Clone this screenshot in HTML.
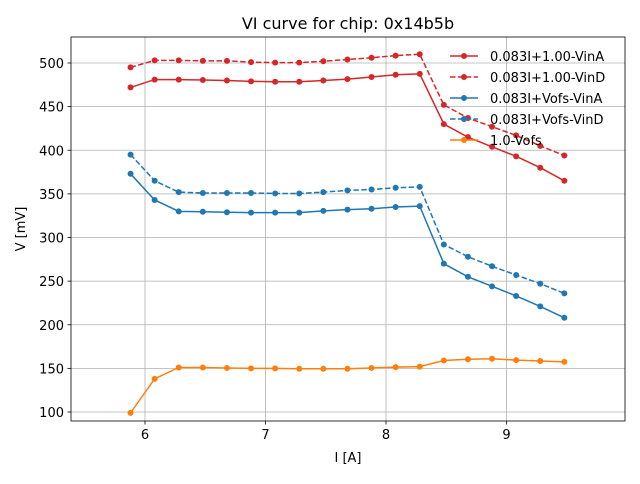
<!DOCTYPE html>
<html><head><meta charset="utf-8"><style>
body{margin:0;background:#fff;font-family:"DejaVu Sans","Liberation Sans",sans-serif;}
svg text{font-family:"DejaVu Sans","Liberation Sans",sans-serif;}
</style></head><body>
<svg id="chart" width="640" height="480" xmlns="http://www.w3.org/2000/svg">
<rect width="640" height="480" fill="#fff"/>
<g id="grid"></g><g id="series"></g><g id="axes"></g><g id="legend"></g>
</svg>
<script>
const xs=[5.88,6.08,6.28,6.48,6.68,6.88,7.08,7.28,7.48,7.68,7.88,8.08,8.28,8.48,8.68,8.88,9.08,9.28,9.48];
const redSolid=[472,481,481,480.5,480,479,478.5,478.5,480,481.5,484,486.5,487.5,430,415,404,393,380,365];
const redDashed=[495,503,503,502.5,502.5,501,500.5,500.5,502,504,506,508.5,510,452,437,427,417,405,394];
const blueSolid=[373,343,330,329.5,329,328.5,328.5,328.5,330.5,332,333,335,336,270,255,244,233,221,208];
const blueDashed=[395,365,352,351,351,351,350.5,350.5,352,354,355,357,358,292,278,267,257,247,236];
const orange=[99,138,151,151,150.5,150,150,149.5,149.5,149.5,150.5,151.5,152,159,160.5,161,159.5,158.5,157.5];
const xTicks=[6,7,8,9];
const yTicks=[100,150,200,250,300,350,400,450,500];
const names=["0.083I+1.00-VinA","0.083I+1.00-VinD","0.083I+Vofs-VinA","0.083I+Vofs-VinD","1.0-Vofs"];
const L=71,R=625,T=37,B=421;
const X=v=>145+(v-6)*120.5;
const Y=v=>412-(v-100)*0.8725;
const NS="http://www.w3.org/2000/svg";
function mk(tag,attrs,parent,txt){const e=document.createElementNS(NS,tag);for(const k in attrs)e.setAttribute(k,attrs[k]);if(txt!==undefined)e.textContent=txt;parent.appendChild(e);return e;}
const grid=document.getElementById('grid'),axes=document.getElementById('axes'),ser=document.getElementById('series'),leg=document.getElementById('legend');
xTicks.forEach(t=>{
 const g=mk('line',{x1:X(t),x2:X(t),y1:T,y2:B,stroke:'#b0b0b0','stroke-width':0.8},grid);
 
 
 mk('line',{x1:X(t),x2:X(t),y1:B,y2:B+3.5,stroke:'#000','stroke-width':0.8},axes);
 const tx=mk('text',{x:X(t),y:B+18,'font-size':13,'text-anchor':'middle'},axes,String(t));
 
 
});
yTicks.forEach(t=>{
 const g=mk('line',{x1:L,x2:R,y1:Y(t),y2:Y(t),stroke:'#b0b0b0','stroke-width':0.8},grid);
 
 
 mk('line',{x1:L-3.5,x2:L,y1:Y(t),y2:Y(t),stroke:'#000','stroke-width':0.8},axes);
 const tx=mk('text',{x:L-7,y:Y(t)+5,'font-size':13,'text-anchor':'end'},axes,String(t));
 
 
});
const frame=mk('rect',{x:L,y:T,width:R-L,height:B-T,fill:'none',stroke:'#000','stroke-width':0.8},axes);


const ti=mk('text',{x:(L+R)/2,y:29,'font-size':16,'text-anchor':'middle'},axes,'VI curve for chip: 0x14b5b');


const xl=mk('text',{x:(L+R)/2,y:462,'font-size':13,'text-anchor':'middle'},axes,'I [A]');


const yl=mk('text',{x:25,y:229,'font-size':13,'text-anchor':'middle',transform:'rotate(-90 25 229)'},axes,'V [mV]');


const series=[[redSolid,'#d62728',''],[redDashed,'#d62728','5.5,2.4'],[blueSolid,'#1f77b4',''],[blueDashed,'#1f77b4','5.5,2.4'],[orange,'#ff7f0e','']];
series.forEach((s,i)=>{
 const g=mk('g',{},ser);
 
 
 const p=mk('polyline',{points:xs.map((x,j)=>X(x)+','+Y(s[0][j])).join(' '),fill:'none',stroke:s[1],'stroke-width':1.5,'stroke-dasharray':s[2]||'none'},g);
 
 
 xs.forEach((x,j)=>{
  const c=mk('circle',{cx:X(x),cy:Y(s[0][j]),r:3,fill:s[1]},g);
  
  
 });
 const ly=56+i*21;
 const le=mk('g',{},leg);
 
 
 mk('line',{x1:450,x2:478,y1:ly,y2:ly,stroke:s[1],'stroke-width':1.5,'stroke-dasharray':s[2]||'none'},le);
 mk('circle',{cx:464,cy:ly,r:3,fill:s[1]},le);
 mk('text',{x:490,y:ly+5,'font-size':13},le,names[i]);
});
</script>
</body></html>
